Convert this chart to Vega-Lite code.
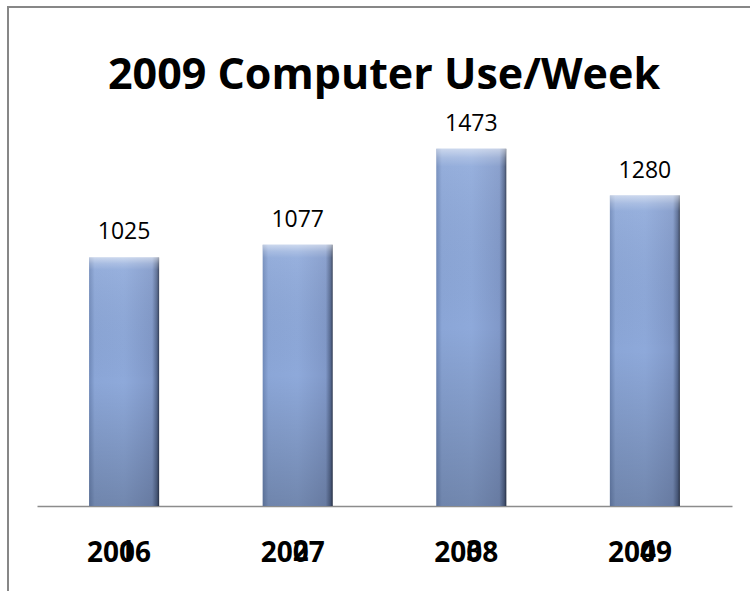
{
  "$schema": "https://vega.github.io/schema/vega-lite/v6.json",
  "autosize": {"type": "none"},
  "width": 746,
  "height": 588,
  "padding": {"left": 8, "top": 7, "right": -4, "bottom": -4},
  "background": "white",
  "config": {
    "view": {"stroke": "#878787", "strokeWidth": 2},
    "font": "Open Sans"
  },
  "title": {
    "text": "2009 Computer Use/Week",
    "font": "Open Sans",
    "fontSize": 43,
    "fontWeight": "bold",
    "color": "black",
    "anchor": "middle",
    "frame": "group",
    "baseline": "alphabetic",
    "offset": 0,
    "dy": 125,
    "dx": 3
  },
  "data": {
    "values": [
      {"year": "2006", "value": 1025, "idx": "1"},
      {"year": "2007", "value": 1077, "idx": "2"},
      {"year": "2008", "value": 1473, "idx": "3"},
      {"year": "2009", "value": 1280, "idx": "4"}
    ]
  },
  "encoding": {
    "x": {
      "field": "year",
      "type": "nominal",
      "sort": null,
      "scale": {"range": [29, 724], "paddingInner": 0.5965, "paddingOuter": 0.3},
      "axis": {
        "title": null,
        "orient": "bottom",
        "offset": -89,
        "labelAngle": 0,
        "ticks": false,
        "tickSize": 0,
        "labelPadding": 55,
        "labelBaseline": "alphabetic",
        "labelFont": "Open Sans",
        "labelFontSize": 28,
        "labelFontWeight": "bold",
        "labelColor": "black",
        "labelOffset": -5,
        "domainColor": "#8c8c8c",
        "domainWidth": 1.5,
        "grid": false
      }
    }
  },
  "layer": [
    {
      "mark": {
        "type": "bar",
        "color": {
          "gradient": "linear",
          "x1": 0, "y1": 0, "x2": 1, "y2": 0,
          "stops": [
            {"offset": 0, "color": "#6f89b9"},
            {"offset": 0.08, "color": "#8ba6d7"},
            {"offset": 0.5, "color": "#8ea9da"},
            {"offset": 0.9, "color": "#8199c9"},
            {"offset": 0.97, "color": "#55688f"},
            {"offset": 1, "color": "#2f3a52"}
          ]
        }
      },
      "encoding": {
        "y": {
          "field": "value",
          "type": "quantitative",
          "scale": {"domain": [0, 1600], "range": [499, 111], "nice": false, "zero": true},
          "axis": null
        }
      }
    },
    {
      "mark": {
        "type": "bar",
        "color": {
          "gradient": "linear",
          "x1": 0, "y1": 0, "x2": 0, "y2": 1,
          "stops": [
            {"offset": 0, "color": "rgba(255,255,255,0.55)"},
            {"offset": 0.025, "color": "rgba(255,255,255,0.25)"},
            {"offset": 0.05, "color": "rgba(255,255,255,0.08)"},
            {"offset": 0.5, "color": "rgba(0,0,0,0.0)"},
            {"offset": 1, "color": "rgba(0,0,0,0.2)"}
          ]
        }
      },
      "encoding": {
        "y": {"field": "value", "type": "quantitative"}
      }
    },
    {
      "mark": {
        "type": "text",
        "baseline": "alphabetic",
        "dy": -18,
        "font": "Open Sans",
        "fontSize": 23,
        "color": "black"
      },
      "encoding": {
        "y": {"field": "value", "type": "quantitative"},
        "text": {"field": "value", "type": "quantitative"}
      }
    },
    {
      "mark": {
        "type": "text",
        "baseline": "alphabetic",
        "dy": 55,
        "dx": 3,
        "font": "Open Sans",
        "fontSize": 28,
        "fontWeight": "bold",
        "color": "black"
      },
      "encoding": {
        "y": {"datum": 0, "type": "quantitative"},
        "text": {"field": "idx", "type": "nominal"}
      }
    }
  ]
}
